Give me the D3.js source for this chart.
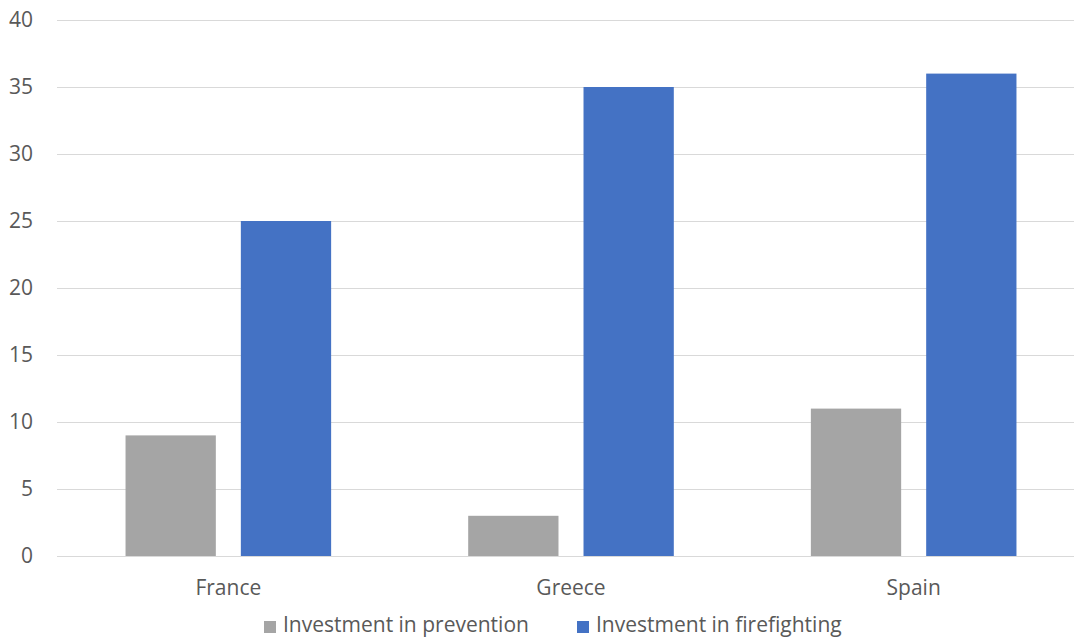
<!DOCTYPE html>
<html><head><meta charset="utf-8">
<script src="https://cdn.jsdelivr.net/npm/d3@7"></script>
<style>body{margin:0;background:#fff;}svg{display:block;font-family:"Open Sans",sans-serif;}</style>
</head><body><svg id="c" width="1074" height="637"></svg>
<script>
const categories = ["France", "Greece", "Spain"];
const seriesNames = ["Investment in prevention", "Investment in firefighting"];
const prevention = [9, 3, 11];
const firefighting = [25, 35, 36];
const yTicks = [0, 5, 10, 15, 20, 25, 30, 35, 40];
const colors = ["#a5a5a5", "#4472c4"];

const svg = d3.select("#c");
const plotLeft = 57, plotRight = 1085, plotTop = 20, plotBottom = 556;
const fs = "21px";
const y = d3.scaleLinear().domain([0, 40]).range([plotBottom, plotTop]);
const x0 = d3.scaleBand().domain(categories).range([plotLeft, plotRight]).paddingInner(0.4).paddingOuter(0.2);
const x1 = d3.scaleBand().domain(seriesNames).range([0, x0.bandwidth()]).paddingInner(0.217);
const color = d3.scaleOrdinal().domain(seriesNames).range(colors);

// gridlines
const yAxis = d3.axisLeft(y).tickValues(yTicks).tickSize(-(1074 - plotLeft)).tickPadding(24);
const gy = svg.append("g").attr("transform", `translate(${plotLeft},0)`).call(yAxis);
gy.select(".domain").remove();
gy.selectAll(".tick line").attr("stroke", "#d9d9d9").attr("stroke-width", 1);
gy.selectAll(".tick text").attr("fill", "#595959").style("font-size", fs).style("font-family", "Open Sans");

const data = categories.map((c, i) => ({cat: c, vals: [prevention[i], firefighting[i]]}));
const groups = svg.append("g").selectAll("g").data(data).join("g")
  .attr("transform", d => `translate(${x0(d.cat)},0)`);
groups.selectAll("rect").data(d => d.vals.map((v, j) => ({s: seriesNames[j], v})))
  .join("rect")
  .attr("x", d => x1(d.s)).attr("width", x1.bandwidth())
  .attr("y", d => y(d.v)).attr("height", d => y(0) - y(d.v))
  .attr("fill", d => color(d.s));

// x axis
const xAxis = d3.axisBottom(x0).tickSize(0).tickPadding(24);
const gx = svg.append("g").attr("transform", `translate(0,${plotBottom})`).call(xAxis);
gx.select(".domain").remove();
gx.selectAll(".tick text").attr("fill", "#595959").style("font-size", fs).style("font-family", "Open Sans");

// legend
const legend = svg.append("g");
const legX = [264, 577];
seriesNames.forEach((s, i) => {
  const g = legend.append("g").attr("transform", `translate(${legX[i]},0)`);
  g.append("rect").attr("x", 0).attr("y", 621).attr("width", 12).attr("height", 12).attr("fill", colors[i]);
  g.append("text").attr("x", 19).attr("y", 632).attr("fill", "#595959")
    .style("font-size", fs).style("font-family", "Open Sans").text(s);
});
</script></body></html>
